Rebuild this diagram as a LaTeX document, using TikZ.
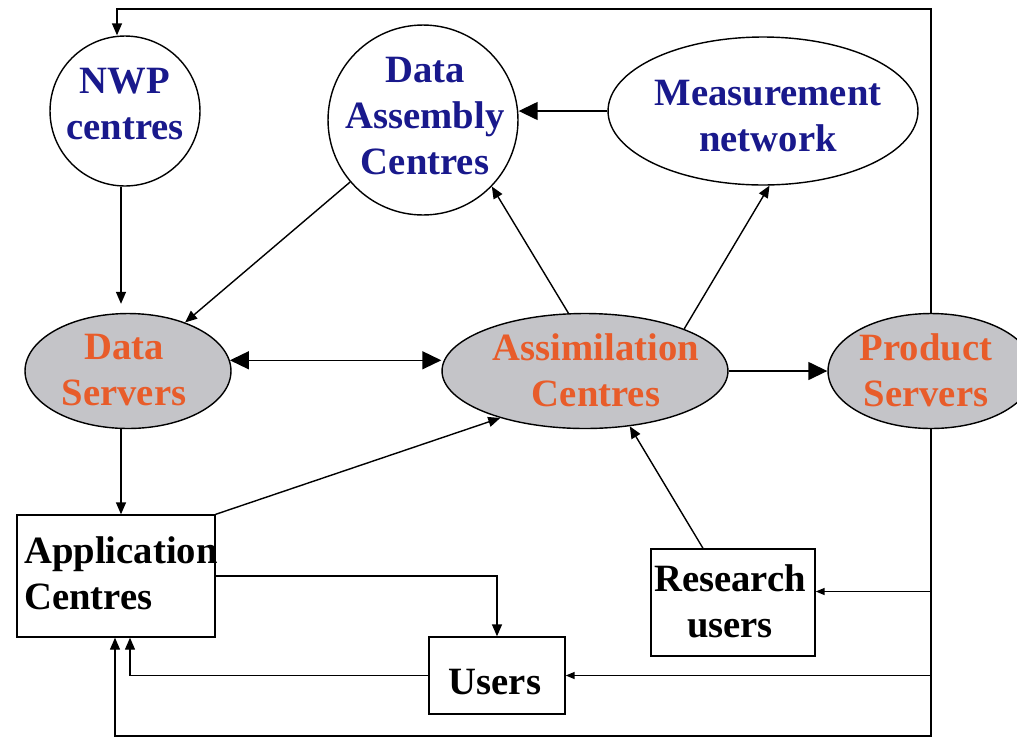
\documentclass[tikz,border=0pt]{standalone}
\usepackage{fontspec}
\setmainfont{Liberation Serif}
\usepackage{tikz}
\usetikzlibrary{arrows.meta}
\usetikzlibrary{shapes.geometric}
\definecolor{navytxt}{RGB}{25,25,140}
\definecolor{orangetxt}{RGB}{232,92,42}
\definecolor{srvgray}{RGB}{196,196,200}
\pgfdeclarelayer{edgelayer}
\pgfdeclarelayer{nodelayer}
\pgfsetlayers{edgelayer,nodelayer,main}
\tikzstyle{none}=[inner sep=0pt]
\tikzstyle{ring}=[circle,fill=white,draw=black,line width=0.8pt,inner sep=0pt]
\tikzstyle{oval}=[ellipse,fill=white,draw=black,line width=0.8pt,inner sep=0pt]
\tikzstyle{server}=[ellipse,fill=srvgray,draw=black,line width=0.8pt,inner sep=0pt]
\tikzstyle{box}=[rectangle,fill=white,draw=black,line width=0.8pt,inner sep=0pt]
\tikzstyle{bluetxt}=[inner sep=0pt,align=center,text=navytxt,font=\bfseries\fontsize{22}{26}\selectfont]
\tikzstyle{orangetext}=[inner sep=0pt,align=center,text=orangetxt,font=\bfseries\fontsize{22}{26}\selectfont]
\tikzstyle{blacktxt}=[inner sep=0pt,align=center,text=black,font=\bfseries\fontsize{22}{26}\selectfont]
\tikzstyle{simple}=[-,draw=black,line width=0.8pt]
\tikzstyle{arrow}=[-{Triangle[length=0.24cm,width=0.2cm]},draw=black,line width=0.8pt]
\tikzstyle{tinyarrow}=[-{Triangle[length=0.18cm,width=0.14cm]},draw=black,line width=0.8pt]
\tikzstyle{bigarrow}=[-{Triangle[length=0.38cm,width=0.36cm]},draw=black,line width=0.8pt]
\tikzstyle{twoway}=[{Triangle[length=0.38cm,width=0.36cm]}-{Triangle[length=0.38cm,width=0.36cm]},draw=black,line width=0.8pt]
\begin{document}
\begin{tikzpicture}[x=0.02cm,y=-0.02cm]
	\useasboundingbox (0,0) rectangle (1017,738);
	\begin{pgfonlayer}{nodelayer}
		\node [style=ring, minimum size=3.0cm] (nwp) at (125, 111) {};
		\node [style=ring, minimum size=3.8cm] (dac) at (423, 120) {};
		\node [style=oval, minimum width=6.2cm, minimum height=2.96cm] (meas) at (763, 111) {};
		\node [style=server, minimum width=4.12cm, minimum height=2.3cm] (ds) at (128, 371) {};
		\node [style=server, minimum width=5.72cm, minimum height=2.3cm] (ac) at (585, 371) {};
		\node [style=server, minimum width=4.12cm, minimum height=2.3cm] (ps) at (931, 371) {};
		\node [style=box, minimum width=3.96cm, minimum height=2.44cm] (app) at (116, 576) {};
		\node [style=box, minimum width=3.28cm, minimum height=2.14cm] (res) at (733, 602.5) {};
		\node [style=box, minimum width=2.72cm, minimum height=1.54cm] (users) at (497, 675.5) {};
	\end{pgfonlayer}
	\node [style=bluetxt] (nwp-t) at (125, 104) {NWP\\centres};
	\node [style=bluetxt] (dac-t) at (425, 116) {Data\\Assembly\\Centres};
	\node [style=bluetxt] (meas-t) at (768, 116) {Measurement\\network};
	\node [style=orangetext] (ds-t) at (124, 370) {Data\\Servers};
	\node [style=orangetext] (ac-t) at (596, 370) {Assimilation\\Centres};
	\node [style=orangetext] (ps-t) at (926, 370) {Product\\Servers};
	\node [style=blacktxt, align=left, anchor=west] (app-t) at (24, 573) {Application\\Centres};
	\node [style=blacktxt] (res-t) at (730, 601) {Research\\users};
	\node [style=blacktxt] (users-t) at (495, 682) {Users};
	\begin{pgfonlayer}{edgelayer}
		\coordinate (tl) at (117, 9);
		\coordinate (bl) at (115, 736);
		\coordinate (nwpout) at ([xshift=-0.08cm]nwp.south);
		\coordinate (dsout) at ([xshift=-0.14cm]ds.south);
		\coordinate (resout) at ([xshift=-0.6cm]res.north);
		\coordinate (resin) at ([yshift=0.22cm]res.east);
		\coordinate (appin) at ([xshift=0.28cm]app.south);
		\draw [style=arrow] (ps.north) |- (tl) -- (tl |- nwp.north);
		\draw [style=arrow, shorten >=0.18cm] (nwpout) -- (nwpout |- ds.north);
		\draw [style=arrow] (dac) -- (ds);
		\draw [style=bigarrow] (meas.west) -- (meas.west -| dac.east);
		\draw [style=arrow] (ac.106) -- (dac.-44);
		\draw [style=arrow] (ac.23) -- (meas.-85);
		\draw [style=twoway] (ds.6) -- (ds.6 -| ac.west);
		\draw [style=bigarrow] (ac.east) -- (ps.west);
		\draw [style=arrow] (dsout) -- (dsout |- app.north);
		\draw [style=arrow] (app.north east) -- (ac.209);
		\draw [style=arrow] (app.east) -| (users.north);
		\draw [style=arrow] (users.west) -| (appin);
		\draw [style=arrow] (ps.south) |- (bl) -- (bl |- app.south);
		\draw [style=tinyarrow] (ps.south |- resin) -- (resin);
		\draw [style=tinyarrow] (ps.south |- users.east) -- (users.east);
		\draw [style=arrow] (resout) -- (ac.-51);
	\end{pgfonlayer}
\end{tikzpicture}
\end{document}
